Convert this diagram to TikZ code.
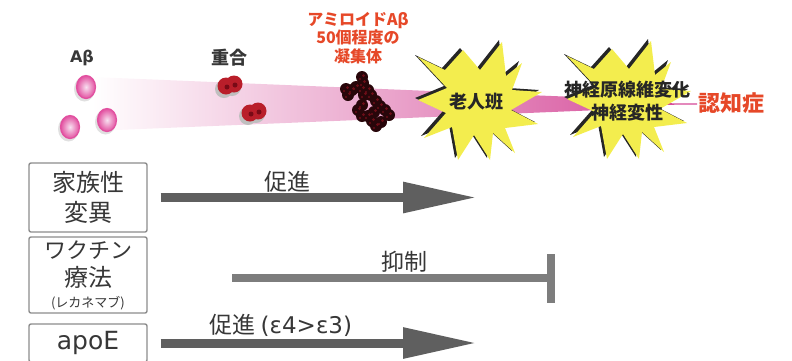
\documentclass[tikz,border=0pt]{standalone}
\usepackage{fontspec}
\setmainfont{Noto Sans CJK JP}
\newfontfamily\latinsans{DejaVu Sans}
\usetikzlibrary{arrows.meta,calc}

\definecolor{bandpink}{RGB}{212,70,150}
\definecolor{abedge}{RGB}{226,80,160}
\definecolor{abcore}{RGB}{248,224,240}
\definecolor{oligo}{RGB}{185,30,42}
\definecolor{oligodark}{RGB}{120,10,22}
\definecolor{aggr}{RGB}{40,6,10}
\definecolor{aggrdot}{RGB}{110,14,24}
\definecolor{burstyellow}{RGB}{243,237,78}
\definecolor{alertred}{RGB}{230,72,40}
\definecolor{labelgray}{RGB}{55,55,55}
\definecolor{boxgray}{RGB}{140,140,140}
\definecolor{arrowgray}{RGB}{95,95,95}
\definecolor{inhibgray}{RGB}{125,125,125}

\tikzset{
  burst/.pic={
    \path[pic actions] (-60,-45) -- (-33,-32) -- (-15,-52) -- (2,-32) -- (24,-60)
      -- (28,-26) -- (44,-39) -- (34,-12) -- (64,-10) -- (33,8) -- (60,22)
      -- (27,26) -- (37,51) -- (15,31) -- (12,58) -- (-4,33) -- (-20,58)
      -- (-26,25) -- (-54,36) -- (-32,11) -- (-60,-2) -- (-31,-14) -- cycle;
  },
  stagelabel/.style={font=\fontsize{18}{20}\selectfont\bfseries, text=labelgray},
  burstlabel/.style={font=\fontsize{18}{23}\selectfont\bfseries, text=black!85, align=center},
  factorbox/.style={draw=boxgray, line width=1.4pt, rounded corners=2pt, fill=white,
    minimum width=118pt, text=labelgray, align=center, inner sep=0pt},
  effectlabel/.style={font=\fontsize{23}{26}\selectfont, text=labelgray},
  promote/.style={draw=arrowgray, line width=9pt,
    -{Triangle[length=74pt,width=29pt]}},
  inhibit/.style={draw=inhibgray, line width=8pt},
}

\begin{document}
\begin{tikzpicture}[x=1pt,y=-1pt]
\useasboundingbox (0,0) rectangle (792,360);
\clip (0,0) rectangle (792,360);

% tapering pink band of the amyloid cascade
\shade[left color=white, right color=bandpink]
  (92,77) -- (600,98) -- (665,103.2) -- (697,103.4) -- (697,104.6)
  -- (665,104.8) -- (600,110) -- (92,131) -- cycle;

% A-beta monomers
\foreach \cx/\cy in {86/87, 70/127, 107/120} {
  \fill[black!12] (\cx-1.5,\cy+2) ellipse (10.5 and 12.5);
  \shadedraw[inner color=abcore, outer color=abedge, draw=abedge, line width=1.2pt]
    (\cx,\cy) ellipse (9.5 and 11.5);
}
\node[stagelabel, font=\fontsize{16}{18}\selectfont\latinsans\bfseries] (abeta) at (82,58) {Aβ};

% oligomers
\foreach \cx/\cy in {226/86, 250/113} {
  \fill[black!25] (\cx-2,\cy+3) circle (9);
  \fill[black!25] (\cx+6,\cy+1) circle (9);
  \fill[oligo] (\cx,\cy) circle (8.5);
  \fill[oligo] (\cx+8,\cy-2) circle (8.5);
  \fill[oligodark] (\cx+1,\cy+1) circle (2.5);
  \fill[oligodark] (\cx+9,\cy-1) circle (2.5);
}
\node[stagelabel] (oligomer) at (229,58) {重合};

% aggregate of about fifty A-beta molecules
\foreach \cx/\cy in {362/77, 363/83, 346/89, 352/90, 348/95, 356/87, 362/89, 368/90,
    371/95, 364/95, 376/101, 380/106, 385/110, 389/115, 362/105, 358/110,
    362/116, 368/116, 374/112, 372/121, 376/126, 381/122} {
  \fill[aggr] (\cx,\cy) circle (6);
}
\foreach \cx/\cy in {362/77, 363/83, 346/89, 352/90, 348/95, 356/87, 362/89, 368/90,
    371/95, 364/95, 376/101, 380/106, 385/110, 389/115, 362/105, 358/110,
    362/116, 368/116, 374/112, 372/121, 376/126, 381/122} {
  \fill[aggrdot] (\cx+1.5,\cy-1.5) circle (1.5);
  \fill[aggrdot] (\cx-2,\cy+2) circle (1.2);
}
\node[font=\fontsize{16}{18.5}\selectfont\bfseries, text=alertred, align=center]
  (aggregate) at (358,38) {アミロイドAβ\\50個程度の\\凝集体};

% senile plaque burst
\coordinate (plaquec) at (478,102);
\pic[fill=black!85] at ($(plaquec)+(-3,-2)$) {burst};
\pic[fill=burstyellow] at (plaquec) {burst};
\node[burstlabel] (plaque) at (476,102) {老人班};

% neurofibrillary change burst
\coordinate (tanglec) at (627,101);
\pic[fill=black!85] at ($(tanglec)+(-3,-2)$) {burst};
\pic[fill=burstyellow] at (tanglec) {burst};
\node[burstlabel] (tangle) at (627,101) {神経原線維変化\\神経変性};

\node[font=\fontsize{22}{24}\selectfont\bfseries, text=alertred, anchor=west]
  (dementia) at (695,103) {認知症};

% modifying factors
\node[factorbox, minimum height=69pt, font=\fontsize{24}{30}\selectfont]
  (familial) at (88,197.5) {家族性\\変異};
\node[factorbox, minimum height=76pt, font=\fontsize{24}{28}\selectfont]
  (vaccine) at (88,275) {{\fontsize{22}{28}\selectfont ワクチン}\\療法\\[-7pt]{\fontsize{13}{14}\selectfont (レカネマブ)}};
\node[factorbox, minimum height=38pt, font=\fontsize{25}{26}\selectfont\latinsans]
  (apoe) at (88,343) {apoE};

% effects on the cascade
\coordinate (familialend) at (477,197.5);
\draw[promote] ([xshift=13pt]familial.east) -- (familialend);
\node[effectlabel] (promoteA) at (287,182) {促進};

\coordinate (vaccinestart) at (232,278);
\coordinate (vaccineend) at (551,278);
\draw[inhibit] (vaccinestart) -- (vaccineend);
\draw[inhibit] ($(vaccineend)+(0,-24)$) -- ($(vaccineend)+(0,25)$);
\node[effectlabel] (inhibitlabel) at (404,262) {抑制};

\coordinate (apoeend) at (477,343);
\draw[promote] ([xshift=13pt]apoe.east) -- (apoeend);
\node[effectlabel, anchor=west] (promoteB) at (206,325)
  {促進 {\latinsans (ε4>ε3)}};

\end{tikzpicture}
\end{document}
